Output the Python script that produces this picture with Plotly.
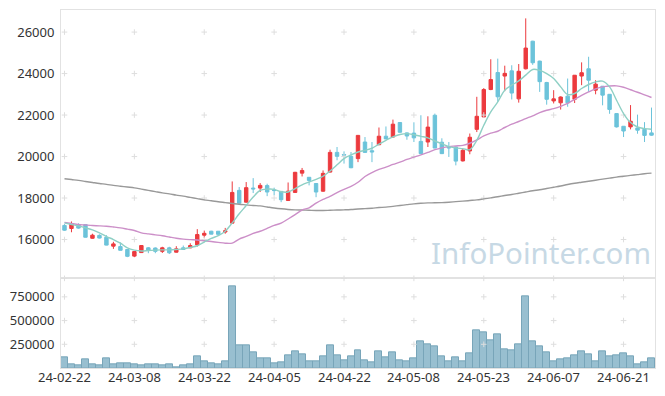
import plotly.graph_objects as go
from plotly.subplots import make_subplots

dates = ["24-02-22","24-02-23","24-02-26","24-02-27","24-02-28","24-02-29","24-03-04","24-03-05","24-03-06","24-03-07",
         "24-03-08","24-03-11","24-03-12","24-03-13","24-03-14","24-03-15","24-03-18","24-03-19","24-03-20","24-03-21",
         "24-03-22","24-03-25","24-03-26","24-03-27","24-03-28","24-03-29","24-04-01","24-04-02","24-04-03","24-04-04",
         "24-04-05","24-04-08","24-04-09","24-04-11","24-04-12","24-04-15","24-04-16","24-04-17","24-04-18","24-04-19",
         "24-04-22","24-04-23","24-04-24","24-04-25","24-04-26","24-04-29","24-04-30","24-05-02","24-05-03","24-05-07",
         "24-05-08","24-05-09","24-05-10","24-05-13","24-05-14","24-05-16","24-05-17","24-05-20","24-05-21","24-05-22",
         "24-05-23","24-05-24","24-05-27","24-05-28","24-05-29","24-05-30","24-05-31","24-06-03","24-06-04","24-06-05",
         "24-06-07","24-06-10","24-06-11","24-06-12","24-06-13","24-06-14","24-06-17","24-06-18","24-06-19","24-06-20",
         "24-06-21","24-06-24","24-06-25","24-06-26","24-06-27"]

open_ = [16680,16530,16720,16720,16060,16200,16110,15680,15660,15520,
         15200,15370,15600,15590,15430,15600,15390,15600,15600,15740,
         16210,16400,16400,16360,16790,18370,17800,18480,18480,18600,
         18380,18320,17880,18270,19200,19000,18700,18330,19250,20200,
         20100,20010,19900,20700,20280,20570,20980,20940,21640,21140,
         21130,20730,20700,21990,20690,20460,20460,19790,20270,21310,
         21910,23230,24050,23880,24130,22780,24230,25560,24600,23570,
         22680,22590,22910,22760,23880,24230,23200,23390,23000,22070,
         21460,21430,21380,21310,21140]
high = [16740,16870,16780,16740,16280,16250,16210,15890,15860,15530,
        15440,15720,15640,15620,15650,15650,15680,15710,15820,16500,
        16430,16420,16410,16560,18800,18530,18770,18960,18720,18690,
        18500,18340,18750,19260,19450,19010,18720,19330,20330,20460,
        20250,20220,21040,20940,20700,21400,21450,21780,21660,21160,
        21650,21990,21940,22070,20880,20700,20480,20360,21110,22880,
        23300,24690,24720,24380,24400,24460,26660,25580,24620,23600,
        23200,22900,23760,23930,24540,24810,23680,23400,23010,22090,
        21470,22480,22020,21660,22360]
low = [16420,16350,16520,16100,16040,16050,15720,15550,15470,15150,
       15150,15350,15340,15340,15350,15300,15370,15500,15580,15660,
       16080,16250,16180,16280,16770,17740,17780,18240,18290,18090,
       18130,17800,17860,18250,19040,18610,18040,18300,19230,19820,
       19660,19440,19730,20180,19730,20550,20840,20920,21150,20810,
       20700,20120,20460,20400,20120,19980,19575,19760,20110,21180,
       21880,23200,22640,23150,22750,22600,24200,24420,23116,22500,
       22560,22265,22400,22580,23440,23116,23000,22470,22060,21400,
       20940,21310,21100,20700,21000]
close = [16450,16760,16550,16110,16210,16070,15730,15790,15480,15190,
         15420,15710,15470,15430,15600,15360,15550,15520,15710,16240,
         16300,16260,16250,16420,18270,17750,18500,18440,18610,18290,
         18360,17920,18330,19240,19330,18850,18290,19190,20200,20010,
         20070,19460,21020,20200,20220,20980,20850,21560,21170,20990,
         20900,20140,21420,20410,20140,20420,19780,20300,20930,21940,
         23230,23710,22880,24010,23060,24110,25230,24520,23610,22760,
         22780,22870,22590,23920,24040,23680,23490,22960,22270,21430,
         21230,21700,21270,21020,21030]

ma5 = [16805,16724,16660,16563,16466,16321,16145,16000,15823,15597,
       15490,15450,15469,15490,15500,15500,15520,15551,15620,15700,
       15880,16050,16190,16400,16800,17240,17640,18050,18367,18430,
       18420,18300,18290,18450,18640,18770,18900,19050,19300,19600,
       19900,20080,20218,20300,20400,20600,20782,20950,21060,21106,
       21050,20975,20900,20750,20620,20480,20420,20380,20333,20782,
       21507,22150,22632,23198,23440,23648,23923,24198,24150,24000,
       23763,23357,22990,23040,23280,23473,23600,23632,23357,22714,
       22072,21637,21425,21347,21314]
ma20 = [16821,16770,16724,16700,16676,16660,16640,16605,16563,16500,
        16435,16320,16270,16225,16180,16120,16063,16020,15995,15976,
        15940,15903,15860,15823,15830,16024,16150,16300,16400,16540,
        16680,16790,16990,17200,17420,17530,17750,17930,18080,18260,
        18420,18560,18760,19040,19230,19380,19493,19620,19730,19860,
        19970,20080,20200,20330,20420,20480,20510,20541,20640,20800,
        21000,21130,21220,21400,21560,21690,21830,21960,22120,22230,
        22310,22420,22560,22760,22950,23116,23260,23357,23400,23406,
        23340,23220,23100,22970,22846]
ma120 = [18930,18890,18850,18800,18750,18700,18660,18610,18570,18530,
         18490,18430,18370,18310,18250,18200,18140,18090,18030,17970,
         17910,17870,17820,17780,17740,17700,17670,17640,17620,17570,
         17520,17480,17450,17430,17420,17410,17400,17400,17410,17420,
         17430,17445,17470,17490,17510,17540,17560,17600,17640,17680,
         17720,17750,17765,17770,17780,17800,17825,17850,17880,17910,
         17960,18010,18060,18120,18170,18230,18290,18350,18400,18460,
         18520,18580,18650,18710,18760,18810,18860,18910,18960,19010,
         19050,19090,19130,19170,19200]

volume = [107000,34000,23000,86000,34000,23000,97000,34000,44000,44000,
          34000,23000,34000,34000,23000,34000,12000,23000,34000,118000,
          65000,44000,34000,65000,857000,234000,234000,160000,97000,97000,
          44000,55000,129000,171000,139000,65000,65000,118000,234000,129000,
          76000,118000,181000,76000,55000,171000,107000,160000,76000,65000,
          97000,276000,245000,224000,118000,65000,107000,65000,150000,392000,
          371000,287000,350000,192000,181000,245000,751000,276000,224000,160000,
          65000,86000,97000,129000,171000,139000,65000,171000,118000,129000,
          150000,118000,34000,55000,97000]

tick_dates = ["24-02-22","24-03-08","24-03-22","24-04-05","24-04-22",
              "24-05-08","24-05-23","24-06-07","24-06-21"]
price_ticks = [16000, 18000, 20000, 22000, 24000, 26000]
vol_ticks = [250000, 500000, 750000]

FONT = "Noto Sans, Noto Sans CJK KR, sans-serif"
UP = "#ec3a3e"
DOWN = "#6cc3da"
GRID = "#e2e2e2"
TXT = "#333333"

fig = make_subplots(rows=2, cols=1, shared_xaxes=True, vertical_spacing=0,
                    row_heights=[0.7496, 0.2504])

fig.add_trace(go.Candlestick(x=dates, open=open_, high=high, low=low, close=close,
                             increasing=dict(line=dict(color=UP, width=1), fillcolor=UP),
                             decreasing=dict(line=dict(color=DOWN, width=1), fillcolor=DOWN),
                             whiskerwidth=0, showlegend=False), row=1, col=1)
fig.add_trace(go.Bar(x=dates, y=volume, marker=dict(color="#98bfd0", line=dict(color="#78a5b9", width=1)),
                     showlegend=False), row=2, col=1)

# grid crosses
cx = [d for d in tick_dates for _ in price_ticks]
cy = [p for _ in tick_dates for p in price_ticks]
fig.add_trace(go.Scatter(x=cx, y=cy, mode="markers", hoverinfo="skip", cliponaxis=False,
                         marker=dict(symbol="cross-thin", size=4, line=dict(width=1, color="#dedede")),
                         showlegend=False), row=1, col=1)
vtop = 945000
cvy_vals = vol_ticks + [vtop]
cvx = [d for d in tick_dates for _ in cvy_vals]
cvy = [v for _ in tick_dates for v in cvy_vals]
fig.add_trace(go.Scatter(x=cvx, y=cvy, mode="markers", hoverinfo="skip", cliponaxis=False,
                         marker=dict(symbol="cross-thin", size=4, line=dict(width=1, color="#dedede")),
                         showlegend=False), row=2, col=1)

fig.add_trace(go.Scatter(x=dates, y=ma120, mode="lines", line=dict(color="#999999", width=1.4, shape="spline"),
                         showlegend=False), row=1, col=1)
fig.add_trace(go.Scatter(x=dates, y=ma20, mode="lines", line=dict(color="#cc8fc8", width=1.4, shape="spline"),
                         showlegend=False), row=1, col=1)
fig.add_trace(go.Scatter(x=dates, y=ma5, mode="lines", line=dict(color="#8fd0c5", width=1.4, shape="spline"),
                         showlegend=False), row=1, col=1)

annotations = [dict(text="InfoPointer.com", xref="paper", yref="paper",
                    x=0.996, y=0.259, xanchor="right", yanchor="bottom", showarrow=False,
                    font=dict(family="Noto Sans, sans-serif", size=29.5, color="#c7d9e5"))]
for d in tick_dates:
    annotations.append(dict(text=d, xref="x2", yref="paper", x=d, y=0, yanchor="top",
                            xanchor="center", yshift=2, showarrow=False,
                            font=dict(family=FONT, size=13, color=TXT)))

fig.update_layout(
    width=665, height=396, margin=dict(l=61, r=10, t=10, b=28),
    paper_bgcolor="white", plot_bgcolor="white",
    bargap=0, boxgap=0.3,
    font=dict(family=FONT, size=13, color=TXT),
    annotations=annotations,
)
common_x = dict(type="category", categoryorder="array", categoryarray=dates, automargin=False,
                showgrid=False, zeroline=False, showline=True, linecolor=GRID, showticklabels=False,
                linewidth=1, mirror=True, ticks="", range=[-0.5, len(dates) - 0.5],
                tickmode="array", tickvals=tick_dates, rangeslider=dict(visible=False))
fig.update_xaxes(**common_x)
fig.update_yaxes(range=[14128, 27064], tickmode="array", tickvals=price_ticks, tickformat="d",
                 automargin=False, ticklabelstandoff=3,
                 showgrid=False, zeroline=False, showline=True, linecolor=GRID, mirror=True, ticks="",
                 tickfont=dict(size=13, color=TXT), row=1, col=1)
fig.update_yaxes(range=[0, vtop], tickmode="array", tickvals=vol_ticks, tickformat="d",
                 automargin=False, ticklabelstandoff=3,
                 showgrid=False, zeroline=False, showline=True, linecolor=GRID, mirror=True, ticks="",
                 tickfont=dict(size=13, color=TXT), row=2, col=1)

fig.write_html("out.html", config={"displayModeBar": False},
               post_script="document.body.style.margin='0';document.body.style.padding='0';"
                           "document.documentElement.style.overflow='hidden';")
